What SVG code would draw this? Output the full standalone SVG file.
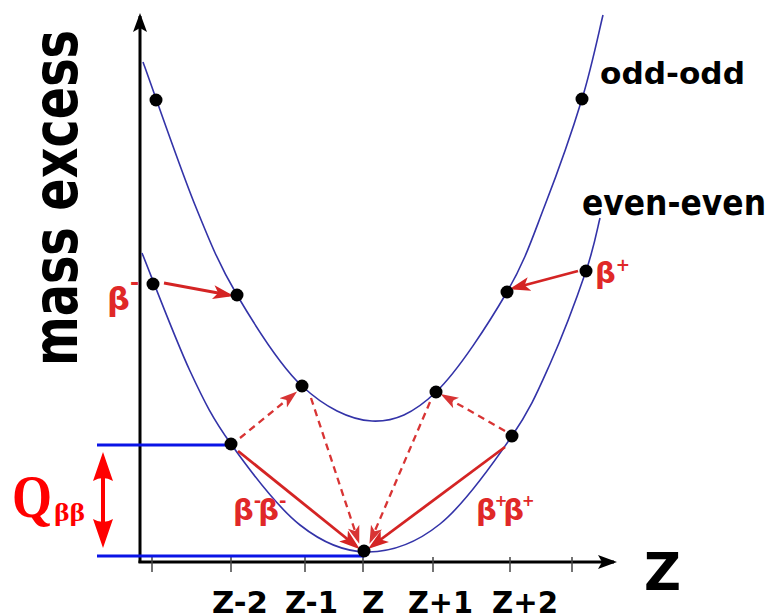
<svg xmlns="http://www.w3.org/2000/svg" width="769" height="616" viewBox="0 0 769 616">
<defs>
<style>
.curve{fill:none;stroke:#3333a8;stroke-width:1.6}
.dot{fill:#000}
.axis{stroke:#000;stroke-width:3;fill:none}
.tick{stroke:#444;stroke-width:1.5}
.lvl{stroke:#0a14e6;stroke-width:3}
.red{stroke:#d42424;stroke-width:2.8;fill:none;marker-end:url(#rh)}
.dash{stroke:#d83434;stroke-width:2.3;fill:none;stroke-dasharray:7 5;marker-end:url(#rh2)}
.lbl{font-family:"DejaVu Sans",Verdana,sans-serif;font-weight:bold;fill:#000}
.rl{font-family:"DejaVu Sans",Verdana,sans-serif;font-weight:bold;fill:#e02828}
.q{font-family:"Liberation Serif","Times New Roman",serif;font-weight:bold;fill:#ff0000}
</style>
<marker id="rh" markerUnits="userSpaceOnUse" markerWidth="22" markerHeight="15" refX="16" refY="7" orient="auto" viewBox="0 0 22 14">
<path d="M0,0 L21,7 L0,14 L5,7 Z" fill="#d42424"/>
</marker>
<marker id="rh2" markerUnits="userSpaceOnUse" markerWidth="19" markerHeight="13" refX="14" refY="6" orient="auto" viewBox="0 0 19 12">
<path d="M0,0 L18,6 L0,12 L4.5,6 Z" fill="#d83434"/>
</marker>
<marker id="ah" markerUnits="userSpaceOnUse" markerWidth="20" markerHeight="14" refX="16" refY="7" orient="auto" viewBox="0 0 20 14">
<path d="M0,0 L19,7 L0,14 L4,7 Z" fill="#000"/>
</marker>
</defs>
<rect width="769" height="616" fill="#fff"/>
<g id="axes">
<line class="axis" x1="140" y1="563" x2="140" y2="16" marker-end="url(#ah)"/>
<line class="axis" x1="138.5" y1="562" x2="614" y2="562" marker-end="url(#ah)"/>
<g class="tick">
<line x1="152" y1="557" x2="152" y2="572"/>
<line x1="231" y1="557" x2="231" y2="572"/>
<line x1="305" y1="557" x2="305" y2="572"/>
<line x1="363" y1="557" x2="363" y2="572"/>
<line x1="433" y1="557" x2="433" y2="572"/>
<line x1="510" y1="557" x2="510" y2="572"/>
<line x1="572" y1="557" x2="572" y2="572"/>
</g>
</g>
<g id="levels">
<line class="lvl" x1="97" y1="445" x2="232" y2="445"/>
<line class="lvl" x1="97" y1="556" x2="364" y2="556"/>
</g>
<g id="odd-odd-curve">
<path class="curve" d="M143,62 C151.7,85.8 179.3,166.2 195,205 C210.7,243.8 219.2,264.8 237,295 C254.8,325.2 279.5,365 302,386 C324.5,407 349.7,420 372,421 C394.3,422 413.5,413.5 436,392 C458.5,370.5 488.8,323.2 507,292 C525.2,260.8 532.5,237.2 545,205 C557.5,172.8 572.3,130.7 582,99 C591.7,67.3 599.5,29 603,15"/>
</g>
<g id="even-even-curve">
<path class="curve" d="M142,253 C150,272.7 175.2,339.2 190,371 C204.8,402.8 212.7,418.3 231,444 C249.3,469.7 277.2,507 300,525 C322.8,543 344.7,552.2 368,552 C391.3,551.8 416,543.3 440,524 C464,504.7 493.7,462.7 512,436 C530.3,409.3 537.7,391.5 550,364 C562.3,336.5 577.7,295.3 586,271 C594.3,246.7 597.7,226.8 600,218"/>
</g>
<g id="connectors">
<line class="red" x1="164" y1="283" x2="229" y2="295"/>
<line class="red" x1="578" y1="271" x2="514" y2="288"/>
<line class="red" x1="238" y1="451" x2="356" y2="546"/>
<line class="red" x1="505" y1="447" x2="372" y2="546"/>
<line class="dash" x1="240" y1="438" x2="294" y2="394"/>
<line class="dash" x1="311" y1="398" x2="358" y2="540"/>
<line class="dash" x1="430" y1="402" x2="371" y2="540"/>
<line class="dash" x1="505" y1="431" x2="444" y2="396"/>
</g>
<g id="nodes">
<circle class="dot" cx="156" cy="100" r="6.5"/>
<circle class="dot" cx="237" cy="295" r="6.5"/>
<circle class="dot" cx="302" cy="386" r="6.5"/>
<circle class="dot" cx="436" cy="392" r="6.5"/>
<circle class="dot" cx="507" cy="292" r="6.5"/>
<circle class="dot" cx="582" cy="99" r="6.5"/>
<circle class="dot" cx="153" cy="284" r="6.5"/>
<circle class="dot" cx="231" cy="444" r="6.5"/>
<circle class="dot" cx="364" cy="551" r="6.5"/>
<circle class="dot" cx="512" cy="436" r="6.5"/>
<circle class="dot" cx="586" cy="271" r="6.5"/>
</g>
<g id="q-arrow">
<line x1="103" y1="476" x2="103" y2="524" stroke="#ff0000" stroke-width="4"/>
<path d="M103,452 L113,481 Q103,475 93,481 Z" fill="#ff0000"/>
<path d="M103,548 L113,519 Q103,525 93,519 Z" fill="#ff0000"/>
</g>
<g id="labels">
<text class="lbl" transform="translate(77,366) rotate(-90)" font-size="62" textLength="336" lengthAdjust="spacingAndGlyphs">mass excess</text>
<text class="lbl" x="600" y="84" font-size="31" textLength="145" lengthAdjust="spacingAndGlyphs">odd-odd</text>
<text class="lbl" x="582" y="215" font-size="36" textLength="184" lengthAdjust="spacingAndGlyphs">even-even</text>
<text class="lbl" x="644" y="590" font-size="51">Z</text>
<g font-size="31">
<text class="lbl" x="212" y="613" textLength="56" lengthAdjust="spacingAndGlyphs">Z-2</text>
<text class="lbl" x="285" y="613" textLength="53" lengthAdjust="spacingAndGlyphs">Z-1</text>
<text class="lbl" x="362" y="613">Z</text>
<text class="lbl" x="408" y="613" textLength="65" lengthAdjust="spacingAndGlyphs">Z+1</text>
<text class="lbl" x="492" y="613" textLength="66" lengthAdjust="spacingAndGlyphs">Z+2</text>
</g>
<text class="q" transform="translate(12,517) scale(0.83,1)" font-size="62">Q</text>
<text class="q" x="54" y="521" font-size="25" textLength="31" lengthAdjust="spacingAndGlyphs">ββ</text>
<text class="rl" x="107" y="310" font-size="32">β<tspan font-size="22" dy="-20">-</tspan></text>
<text class="rl" x="595" y="283" font-size="29">β<tspan font-size="17" dy="-12">+</tspan></text>
<text class="rl" x="233" y="520" font-size="29">β<tspan font-size="18" dy="-13">-</tspan><tspan dx="-3" dy="13">β</tspan><tspan font-size="18" dy="-13">-</tspan></text>
<text class="rl" x="476" y="520" font-size="29">β<tspan font-size="15" dx="-2" dy="-14">+</tspan><tspan dx="-4" dy="14">β</tspan><tspan font-size="15" dx="-2" dy="-14">+</tspan></text>
</g>
</svg>
